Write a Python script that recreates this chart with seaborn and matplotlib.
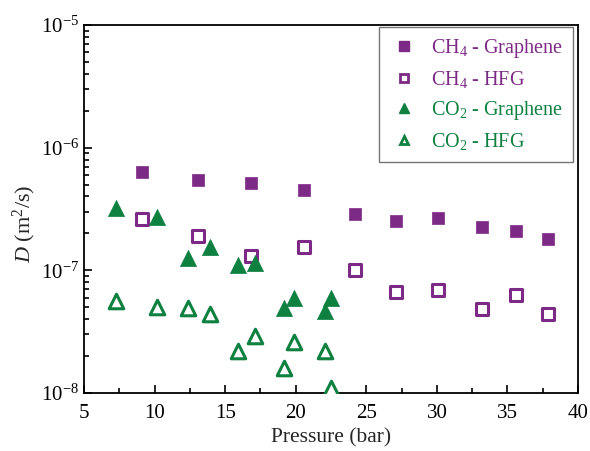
import numpy as np
import pandas as pd
import matplotlib
matplotlib.use("Agg")
import matplotlib.pyplot as plt
from matplotlib.ticker import MultipleLocator, LogLocator, NullFormatter
from matplotlib.lines import Line2D
import seaborn as sns

# Diffusion coefficients (m^2/s) versus pressure (bar)
ch4_gr_p = [9.1, 13.1, 16.8, 20.6, 24.2, 27.1, 30.1, 33.2, 35.6, 37.9]
ch4_gr_d = [6.33e-7, 5.44e-7, 5.19e-7, 4.49e-7, 2.90e-7, 2.52e-7, 2.69e-7, 2.26e-7, 2.11e-7, 1.79e-7]

ch4_hfg_p = [9.1, 13.1, 16.8, 20.6, 24.2, 27.1, 30.1, 33.2, 35.6, 37.9]
ch4_hfg_d = [2.62e-7, 1.89e-7, 1.31e-7, 1.55e-7, 1.00e-7, 6.70e-8, 6.90e-8, 4.84e-8, 6.25e-8, 4.38e-8]

co2_gr_p = [7.3, 10.2, 12.4, 13.9, 15.9, 17.1, 19.2, 19.9, 22.1, 22.5]
co2_gr_d = [3.24e-7, 2.72e-7, 1.25e-7, 1.56e-7, 1.10e-7, 1.14e-7, 4.97e-8, 5.94e-8, 4.66e-8, 5.99e-8]

co2_hfg_p = [7.3, 10.2, 12.4, 13.9, 15.9, 17.1, 19.2, 19.9, 22.1, 22.5]
co2_hfg_d = [5.62e-8, 5.06e-8, 4.97e-8, 4.38e-8, 2.19e-8, 2.92e-8, 1.59e-8, 2.62e-8, 2.20e-8, 1.09e-8]

PURPLE = "#7d2a86"
GREEN = "#0e8040"

sns.set_theme(style="ticks")
plt.rcParams.update({
    "font.family": ["Liberation Serif", "DejaVu Serif"],
    "mathtext.fontset": "custom",
    "mathtext.rm": "Liberation Serif",
    "mathtext.it": "Liberation Serif:italic",
    "mathtext.bf": "Liberation Serif:bold",
    "axes.edgecolor": "black",
    "axes.linewidth": 1.3,
    "xtick.color": "black",
    "ytick.color": "black",
})

fig = plt.figure(figsize=(5.9, 4.51), dpi=100)
ax = fig.add_axes([0.1424, 0.1286, 0.8373, 0.816])

series = [
    ("CH$_4$ - Graphene", ch4_gr_p, ch4_gr_d, "s", PURPLE, True, 85),
    ("CH$_4$ - HFG", ch4_hfg_p, ch4_hfg_d, "s", PURPLE, False, 65),
    ("CO$_2$ - Graphene", co2_gr_p, co2_gr_d, "^", GREEN, True, 135),
    ("CO$_2$ - HFG", co2_hfg_p, co2_hfg_d, "^", GREEN, False, 110),
]

handles = []
for label, p, d, mk, col, filled, size in series:
    df = pd.DataFrame({"p": p, "d": d})
    if filled:
        sns.scatterplot(data=df, x="p", y="d", ax=ax, marker=mk, s=size,
                        color=col, edgecolor=col, linewidth=0.5, zorder=3)
        h = Line2D([], [], linestyle="none", marker=mk, markersize=7,
                   markerfacecolor=col, markeredgecolor=col)
    else:
        sns.scatterplot(data=df, x="p", y="d", ax=ax, marker=mk, s=size,
                        facecolor="white", edgecolor=col, linewidth=2.2, zorder=3)
        h = Line2D([], [], linestyle="none", marker=mk, markersize=6,
                   markerfacecolor="white", markeredgecolor=col, markeredgewidth=2)
    handles.append((h, label, col))

ax.set_yscale("log")
ax.set_xlim(5, 40)
ax.set_ylim(1e-8, 1e-5)

ax.xaxis.set_major_locator(MultipleLocator(5))
ax.xaxis.set_minor_locator(MultipleLocator(2.5))
ax.yaxis.set_major_locator(LogLocator(base=10, numticks=10))
ax.yaxis.set_minor_locator(LogLocator(base=10, subs=np.arange(2, 10), numticks=20))
ax.yaxis.set_minor_formatter(NullFormatter())

ax.tick_params(which="both", direction="in", top=False, right=False,
               labelsize=15, width=1.2)
ax.tick_params(which="major", length=6)
ax.tick_params(which="minor", length=3.5)
ax.tick_params(axis="x", pad=8)

ax.set_xlabel("Pressure (bar)", fontsize=15.5, labelpad=4)
ax.set_ylabel(r"$\mathit{D}$ (m$^2$/s)", fontsize=16)
ax.yaxis.set_label_coords(-0.093, 0.46)

leg = ax.legend([h for h, _, _ in handles], [l for _, l, _ in handles],
                loc="upper right", bbox_to_anchor=(0.99, 0.995),
                fontsize=14.5, frameon=True, fancybox=False,
                edgecolor="#555555", handletextpad=0.6, borderpad=0.5,
                labelspacing=0.45, handlelength=1.5, borderaxespad=0.0)
leg.get_frame().set_linewidth(1.0)
for txt, (_, _, col) in zip(leg.get_texts(), handles):
    txt.set_color(col)

fig.savefig("out.png", dpi=100)
